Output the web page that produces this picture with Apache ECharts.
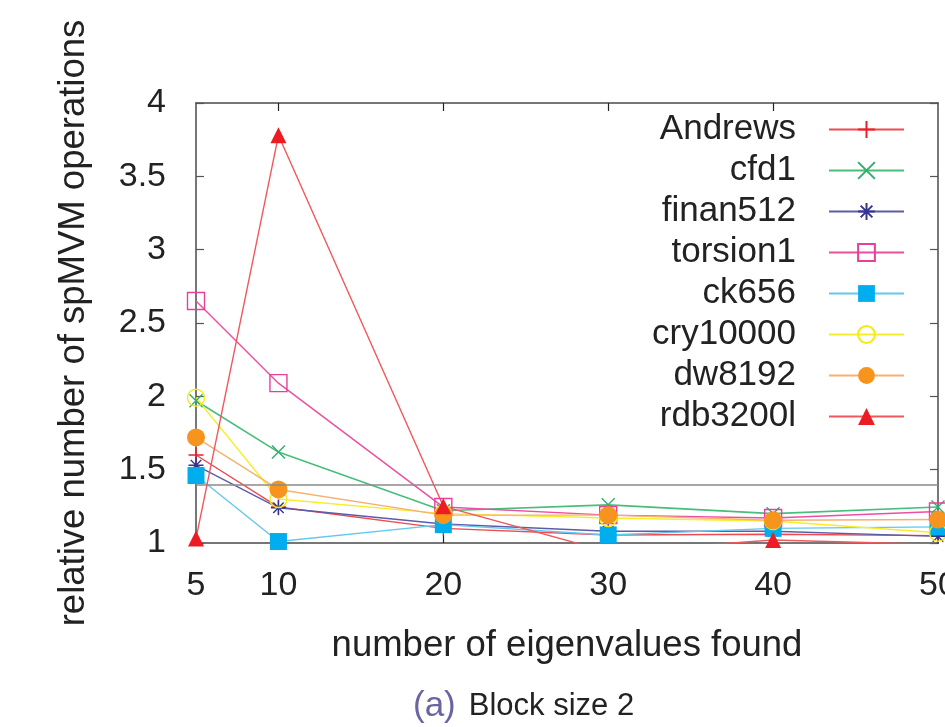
<!DOCTYPE html>
<html style="height: 100%">
<head>
    <meta charset="UTF-8">
    <title>relative number of spMVM operations - block size 2</title>
    <script src="https://cdn.jsdelivr.net/npm/echarts/dist/echarts.min.js"></script>
    <style>
        #main {
            width: 945px;
            height: 727px;
        }
    </style>
</head>
<body style="margin: 0; background: #fff">
    <div id="main"></div>
    <script type="text/javascript">
        // number of eigenvalues found (x positions)
        var eigenCounts = [5, 10, 20, 30, 40, 50];
        var xTickLabels = [5, 10, 20, 30, 40, 50];
        var innerXTicks = [10, 20, 30, 40];

        // relative number of spMVM operations per matrix
        var andrews  = [1.60, 1.245, 1.10, 1.055, 1.06, 1.05];
        var cfd1     = [1.97, 1.62, 1.22, 1.26, 1.20, 1.245];
        var finan512 = [1.53, 1.24, 1.13, 1.08, 1.08, 1.045];
        var torsion1 = [2.65, 2.09, 1.245, 1.19, 1.17, 1.215];
        var ck656    = [1.46, 1.01, 1.125, 1.055, 1.10, 1.11];
        var cry10000 = [1.99, 1.30, 1.20, 1.17, 1.15, 1.07];
        var dw8192   = [1.72, 1.365, 1.19, 1.19, 1.155, 1.16];
        var rdb3200l = [1.03, 3.78, 1.25, 0.94, 1.02, 0.99];

        // the grey horizontal rule across the plot
        var ruleLevel = 1.395;

        var chartDom = document.getElementById('main');
        var myChart = echarts.init(chartDom);
        var option;

        var font = 'Liberation Sans, Arial, Helvetica, sans-serif';
        var axisColor = '#4a4a4a';

        function pairs(values) {
            return values.map(function (v, i) { return [eigenCounts[i], v]; });
        }

        var plusPath = 'path://M5,0L5,10M0,5L10,5';
        var crossPath = 'path://M0,0L10,10M10,0L0,10';
        var starPath = 'path://M5,0L5,10M0,5L10,5M1.5,1.5L8.5,8.5M8.5,1.5L1.5,8.5';

        function makeSeries(name, values, lineColor, symbol, size, itemStyle, lineWidth) {
            return {
                name: name,
                type: 'line',
                data: pairs(values),
                symbol: symbol,
                symbolSize: size,
                showAllSymbol: true,
                clip: true,
                lineStyle: { color: lineColor, width: lineWidth || 1.4 },
                itemStyle: itemStyle,
                emphasis: { disabled: true }
            };
        }

        var seriesList = [
            makeSeries('Andrews', andrews, '#ee4a50', plusPath, 15,
                { color: 'transparent', borderColor: '#e8202a', borderWidth: 1.4 }),
            makeSeries('cfd1', cfd1, '#48bd7c', crossPath, 13,
                { color: 'transparent', borderColor: '#2fb06c', borderWidth: 1.4 }, 1.6),
            makeSeries('finan512', finan512, '#5c5ca8', starPath, 15,
                { color: 'transparent', borderColor: '#35358f', borderWidth: 1.4 }),
            makeSeries('torsion1', torsion1, '#ec4ea2', 'rect', 17,
                { color: 'transparent', borderColor: '#e8409a', borderWidth: 1.4 }),
            makeSeries('ck656', ck656, '#62c8ee', 'rect', 17,
                { color: '#00aeef' }),
            makeSeries('cry10000', cry10000, '#f6ee2c', 'circle', 17,
                { color: 'transparent', borderColor: '#f4ea10', borderWidth: 1.4 }),
            makeSeries('dw8192', dw8192, '#f7b070', 'circle', 18,
                { color: '#f7941d' }),
            makeSeries('rdb3200l', rdb3200l, '#f0585c', 'triangle', 16,
                { color: '#ed1c24' })
        ];

        seriesList[0].markLine = {
            silent: true,
            symbol: ['none', 'none'],
            label: { show: false },
            lineStyle: { color: '#8a8a8a', type: 'solid', width: 1.5 },
            data: [{ yAxis: ruleLevel }]
        };

        option = {
            animation: false,
            backgroundColor: '#ffffff',
            textStyle: { fontFamily: font },
            title: {
                left: 408,
                top: 680,
                text: '{a|(a)}{b|Block size 2}',
                textStyle: {
                    fontWeight: 'normal',
                    rich: {
                        a: { fontFamily: font, fontSize: 35, fontWeight: 'normal', color: '#6a65a2', lineHeight: 42 },
                        b: { fontFamily: font, fontSize: 31, fontWeight: 'normal', color: '#222', lineHeight: 42, padding: [0, 0, 0, 13] }
                    }
                }
            },
            legend: {
                orient: 'vertical',
                align: 'right',
                right: 40,
                top: 112,
                padding: 0,
                itemGap: 6,
                itemWidth: 75,
                itemHeight: 21,
                selectedMode: false,
                textStyle: {
                    fontFamily: font,
                    fontSize: 35,
                    color: '#222',
                    lineHeight: 34.5,
                    padding: [0, 28, 0, 0]
                },
                data: ['Andrews', 'cfd1', 'finan512', 'torsion1', 'ck656', 'cry10000', 'dw8192', 'rdb3200l']
            },
            grid: {
                left: 196,
                right: 7,
                top: 103,
                bottom: 184,
                containLabel: false,
                outerBoundsMode: 'none'
            },
            xAxis: [{
                type: 'value',
                min: 5,
                max: 50,
                name: 'number of eigenvalues found',
                nameLocation: 'middle',
                nameGap: 84,
                nameTextStyle: { fontFamily: font, fontSize: 36.5, color: '#222' },
                axisLine: { show: true, onZero: false, lineStyle: { color: axisColor, width: 1.5 } },
                axisTick: { show: true, inside: true, length: 8, customValues: innerXTicks, lineStyle: { color: '#222', width: 1.2 } },
                axisLabel: { customValues: xTickLabels, margin: 26, fontFamily: font, fontSize: 34, color: '#222' },
                splitLine: { show: false }
            }, {
                type: 'value',
                position: 'top',
                min: 5,
                max: 50,
                axisLine: { show: true, onZero: false, lineStyle: { color: axisColor, width: 1.5 } },
                axisTick: { show: true, inside: true, length: 8, customValues: innerXTicks, lineStyle: { color: '#222', width: 1.2 } },
                axisLabel: { show: false },
                splitLine: { show: false }
            }],
            yAxis: [{
                type: 'value',
                min: 1,
                max: 4,
                interval: 0.5,
                name: 'relative number of spMVM operations',
                nameLocation: 'middle',
                nameGap: 104,
                nameTextStyle: { fontFamily: font, fontSize: 36.5, color: '#222' },
                axisLine: { show: true, onZero: false, lineStyle: { color: axisColor, width: 1.5 } },
                axisTick: { show: true, inside: true, length: 8, lineStyle: { color: '#555', width: 1.2 } },
                axisLabel: { margin: 30, fontFamily: font, fontSize: 34, color: '#222' },
                splitLine: { show: false }
            }, {
                type: 'value',
                position: 'right',
                min: 1,
                max: 4,
                interval: 0.5,
                axisLine: { show: true, onZero: false, lineStyle: { color: axisColor, width: 1.5 } },
                axisTick: { show: true, inside: true, length: 8, lineStyle: { color: '#555', width: 1.2 } },
                axisLabel: { show: false },
                splitLine: { show: false }
            }],
            series: seriesList
        };

        myChart.setOption(option);
    </script>
</body>
</html>
